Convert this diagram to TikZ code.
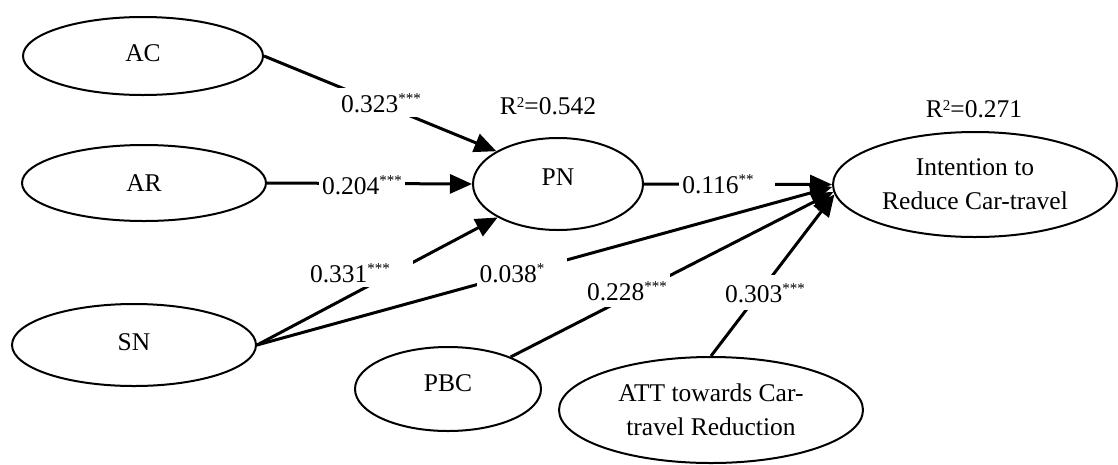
\documentclass[tikz,border=0pt]{standalone}
\usepackage{fontspec}
\setmainfont{Liberation Serif}
\usetikzlibrary{shapes.geometric,arrows.meta}
\newcommand{\sigstars}[1]{\raisebox{9pt}{\fontsize{15}{15}\selectfont #1}}
\newcommand{\rsq}{R\raisebox{7pt}{\fontsize{15}{15}\selectfont 2}}
\newcommand{\padr}[1]{\rule{#1}{0pt}}
\begin{document}
\begin{tikzpicture}[x=1pt,y=-1pt,
  every node/.style={font=\fontsize{25.5}{34}\selectfont},
  var/.style={ellipse,draw,line width=2pt,inner sep=0pt,align=center},
  link/.style={line width=3pt,-{Triangle[length=22pt,width=19pt]}},
  coef/.style={fill=white,inner xsep=3pt,inner ysep=5pt,anchor=base},
  rlab/.style={anchor=base}]
\useasboundingbox (0,0) rectangle (1118,464);
% constructs
\node[var,minimum width=240pt,minimum height=78pt,text depth=6pt] (AC) at (143,56) {AC};
\node[var,minimum width=244pt,minimum height=76pt] (AR) at (144,183) {AR};
\node[var,minimum width=244pt,minimum height=82pt,text depth=6pt] (SN) at (134,345) {SN};
\node[var,minimum width=170pt,minimum height=92pt,text depth=14pt] (PN) at (558,184) {PN};
\node[var,minimum width=186pt,minimum height=84pt,text depth=12pt] (PBC) at (448,389) {PBC};
\node[var,minimum width=304pt,minimum height=106pt] (ATT) at (711,410) {ATT towards Car-\\travel Reduction};
\node[var,minimum width=284pt,minimum height=105pt] (INT) at (975,184.5) {Intention to\\Reduce Car-travel};
% R squared
\node[rlab] (R1) at (548,114) {\rsq=0.542};
\node[rlab] (R2) at (974,117) {\rsq=0.271};
% paths
\draw[link] (AC.east) -- (PN.152);
\draw[link] (AR.east) -- (PN.west);
\draw[link] (SN.east) -- (PN.209);
\draw[link] (SN.east) -- (INT.181);
\draw[link] (PN.east) -- (INT.west);
\draw[link] (PBC) -- (INT.183);
\draw[link] (ATT.north) -- (INT.184);
% coefficients
\node[coef] (c1) at (381,112) {0.323\sigstars{***}};
\node[coef] (c2) at (362,194) {0.204\sigstars{***}};
\node[coef] (c3) at (360,282) {0.331\sigstars{***}\padr{20pt}};
\node[coef] (c4) at (522,282) {0.038\sigstars{*}\padr{20pt}};
\node[coef] (c5) at (727,193) {0.116\sigstars{**}\padr{18pt}};
\node[coef,inner ysep=7pt] (c6) at (627,300) {0.228\sigstars{***}};
\node[coef,inner ysep=8pt] (c7) at (765,302) {0.303\sigstars{***}};
\end{tikzpicture}
\end{document}
